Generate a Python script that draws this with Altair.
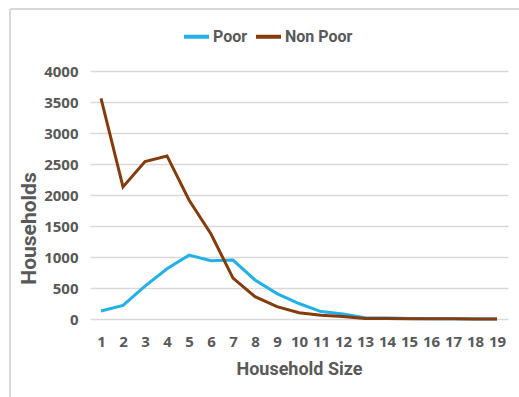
import altair as alt
import pandas as pd

# Household counts by household size
household_size = list(range(1, 20))
poor = [130, 220, 530, 810, 1030, 940, 950, 630, 410, 250, 120, 80, 20, 15, 10, 4, 3, 2, 2]
non_poor = [3560, 2130, 2540, 2630, 1920, 1370, 660, 360, 200, 100, 60, 40, 10, 8, 5, 4, 3, 2, 2]

series_names = ["Poor", "Non Poor"]
series_colors = ["#22b0e6", "#843c0c"]

df = pd.concat([
    pd.DataFrame({"size": household_size, "households": poor, "group": "Poor"}),
    pd.DataFrame({"size": household_size, "households": non_poor, "group": "Non Poor"}),
])

TICK_FONT = "Open Sans"
TITLE_FONT = "Roboto"
GREY = "#595959"

lines = alt.Chart(df).mark_line(strokeWidth=3).encode(
    x=alt.X(
        "size:O",
        title="Household Size",
        scale=alt.Scale(type="point", padding=0.5),
        axis=alt.Axis(
            labelAngle=0, ticks=False, domain=False, grid=False,
            labelFont=TICK_FONT, labelFontSize=15, labelFontWeight="bold", labelColor=GREY,
            labelPadding=15, titleFont=TITLE_FONT, titleFontSize=18, titleFontWeight="bold",
            titleColor=GREY, titlePadding=11,
        ),
    ),
    y=alt.Y(
        "households:Q",
        title="Households",
        scale=alt.Scale(domain=[0, 4000]),
        axis=alt.Axis(
            values=list(range(0, 4001, 500)), format="d", ticks=False, domain=False,
            gridColor="#d9d9d9", gridWidth=1.5,
            labelFont=TICK_FONT, labelFontSize=15, labelFontWeight="bold", labelColor=GREY,
            labelPadding=12, titleFont=TITLE_FONT, titleFontSize=21, titleFontWeight="bold",
            titleColor=GREY, titleX=-61, titleY=157, titleBaseline="middle",
        ),
    ),
    color=alt.Color(
        "group:N",
        scale=alt.Scale(domain=series_names, range=series_colors),
        sort=series_names,
        legend=alt.Legend(
            title=None, orient="none", legendX=92, legendY=-49, direction="horizontal",
            symbolType="stroke", symbolSize=625, symbolStrokeWidth=4,
            labelFont=TITLE_FONT, labelFontSize=16, labelFontWeight="bold", labelColor=GREY,
            labelOffset=2, columnPadding=0,
        ),
    ),
)

# light frame around the chart area
frame_left = alt.Chart(df).mark_rule(color="#d9d9d9", strokeWidth=1.5).encode(
    x=alt.value(-80), y=alt.value(-62), y2=alt.value(330)
)
frame_top = alt.Chart(df).mark_rule(color="#d9d9d9", strokeWidth=1.5).encode(
    x=alt.value(-80), x2=alt.value(430), y=alt.value(-62)
)

chart = alt.layer(frame_left, frame_top, lines).properties(
    width=418,
    height=248,
    autosize=alt.AutoSizeParams(type="none"),
    padding={"left": 90, "top": 71, "right": 11, "bottom": 78},
    background="white",
).configure_view(stroke=None)

chart.save("out.html", embed_options={"renderer": "svg", "actions": False})
